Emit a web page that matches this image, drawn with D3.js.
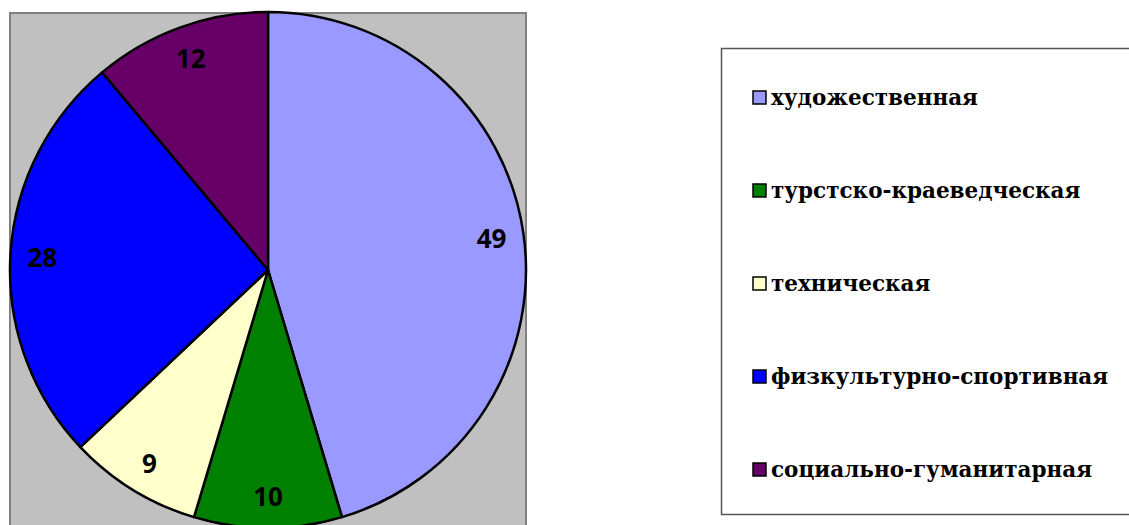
<!DOCTYPE html>
<html>
<head>
<meta charset="utf-8">
<script src="https://cdn.jsdelivr.net/npm/d3@7"></script>
<style>
  body { margin: 0; background: #fff; }
  svg { display: block; }
</style>
</head>
<body>
<svg id="chart"></svg>
<script>
var categories = ['художественная', 'турстско-краеведческая', 'техническая', 'физкультурно-спортивная', 'социально-гуманитарная'];
var values = [49, 10, 9, 28, 12];
var colors = ['#9999FF', '#008000', '#FFFFCC', '#0000FF', '#660066'];

var width = 1129, height = 525;
var svg = d3.select('#chart').attr('width', width).attr('height', height);

// plot area
svg.append('rect')
  .attr('x', 10).attr('y', 13)
  .attr('width', 516).attr('height', 530)
  .attr('fill', '#C0C0C0')
  .attr('stroke', '#808080')
  .attr('stroke-width', 2);

var cx = 268, cy = 270, radius = 258;

var data = categories.map(function (c, i) { return { name: c, value: values[i], color: colors[i] }; });

var pie = d3.pie().value(function (d) { return d.value; }).sort(null);
var arc = d3.arc().innerRadius(0).outerRadius(radius);
var labelArc = d3.arc().innerRadius(226).outerRadius(226);

var g = svg.append('g').attr('transform', 'translate(' + cx + ',' + cy + ')');

var arcs = g.selectAll('g.slice')
  .data(pie(data))
  .enter()
  .append('g')
  .attr('class', 'slice');

arcs.append('path')
  .attr('d', arc)
  .attr('fill', function (d) { return d.data.color; })
  .attr('stroke', '#000')
  .attr('stroke-width', 2.5)
  .attr('stroke-linejoin', 'round');

arcs.append('text')
  .attr('transform', function (d) { return 'translate(' + labelArc.centroid(d) + ')'; })
  .attr('text-anchor', 'middle')
  .attr('dy', '0.4em')
  .attr('font-family', '"Open Sans", "DejaVu Sans", sans-serif')
  .attr('font-weight', 'bold')
  .attr('font-size', '26px')
  .attr('fill', '#000')
  .text(function (d) { return d.data.value; });

// legend
var legend = svg.append('g');
legend.append('rect')
  .attr('x', 721.5).attr('y', 48.5)
  .attr('width', 420).attr('height', 466)
  .attr('fill', '#fff')
  .attr('stroke', '#555')
  .attr('stroke-width', 1.5);

var ly = d3.scalePoint().domain(categories).range([97, 469]);

var items = legend.selectAll('g.item')
  .data(data)
  .enter()
  .append('g')
  .attr('class', 'item')
  .attr('transform', function (d) { return 'translate(752,' + ly(d.name) + ')'; });

items.append('rect')
  .attr('x', 1).attr('y', -6)
  .attr('width', 13).attr('height', 13)
  .attr('fill', function (d) { return d.color; })
  .attr('stroke', '#000')
  .attr('stroke-width', 1.5);

items.append('text')
  .attr('x', 19)
  .attr('dy', '0.35em')
  .attr('font-family', '"DejaVu Serif", serif')
  .attr('font-weight', 'bold')
  .attr('font-size', '21.5px')
  .attr('fill', '#000')
  .text(function (d) { return d.name; });
</script>
</body>
</html>
